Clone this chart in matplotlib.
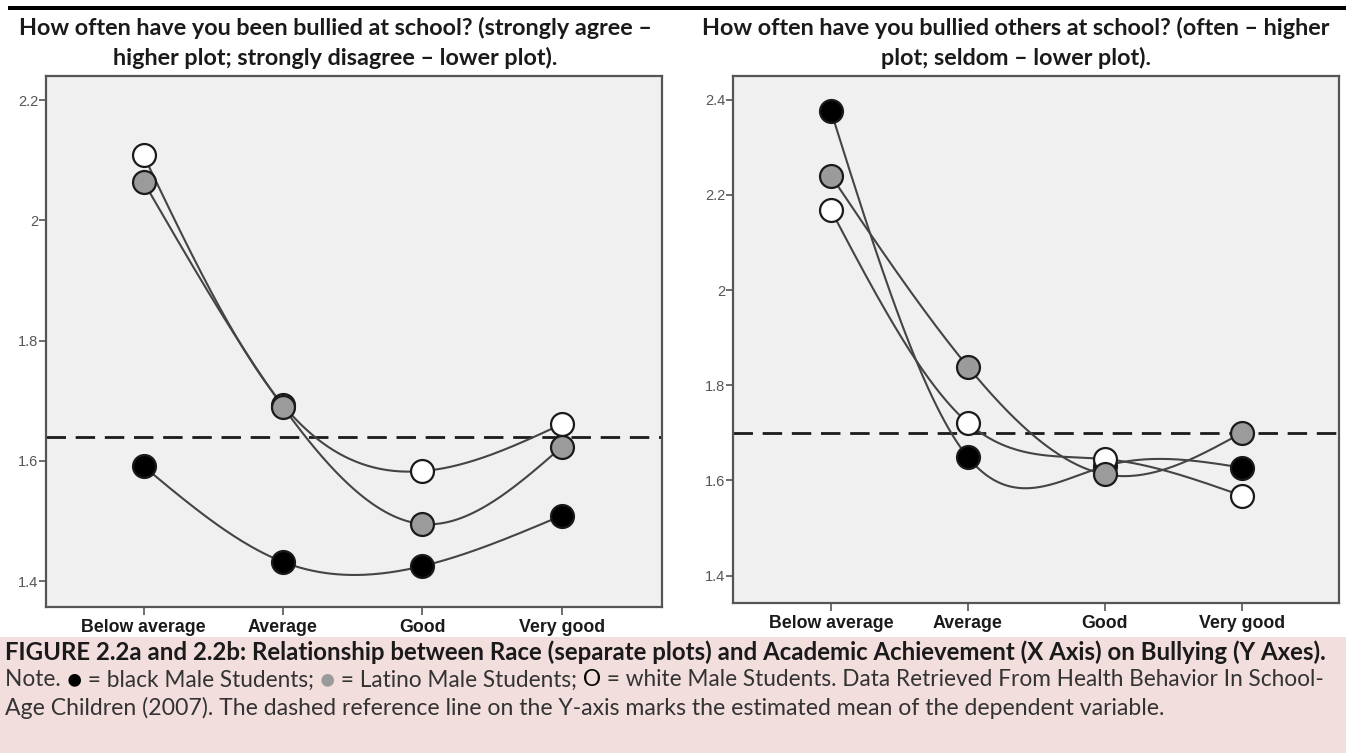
import numpy as np
import matplotlib
matplotlib.use("Agg")
import matplotlib.pyplot as plt
from matplotlib.patches import Rectangle

# ---- data -------------------------------------------------------------
categories = ["Below average", "Average", "Good", "Very good"]

# Fig 2.2a: been bullied at school
bullied_black = [1.591, 1.432, 1.425, 1.509]
bullied_latino = [2.064, 1.690, 1.495, 1.623]
bullied_white = [2.108, 1.693, 1.583, 1.661]
bullied_mean = 1.640
bullied_ticks = [1.4, 1.6, 1.8, 2.0, 2.2]
bullied_ticklabels = ["1.4", "1.6", "1.8", "2", "2.2"]

# Fig 2.2b: bullied others at school
bully_black = [2.376, 1.649, 1.630, 1.627]
bully_latino = [2.240, 1.839, 1.613, 1.700]
bully_white = [2.168, 1.721, 1.645, 1.568]
bully_mean = 1.700
bully_ticks = [1.4, 1.6, 1.8, 2.0, 2.2, 2.4]
bully_ticklabels = ["1.4", "1.6", "1.8", "2", "2.2", "2.4"]

titles = [
    "How often have you been bullied at school? (strongly agree \u2013\nhigher plot; strongly disagree \u2013 lower plot).",
    "How often have you bullied others at school? (often \u2013 higher\nplot; seldom \u2013 lower plot).",
]

caption_line1 = ("FIGURE 2.2a and 2.2b: Relationship between Race (separate plots) and "
                 "Academic Achievement (X Axis) on Bullying (Y Axes).")
caption_line2 = [("Note. ", "#333333"), ("\u25CF", "#000000"), (" = black Male Students; ", "#333333"),
                 ("\u25CF", "#9a9a9a"), (" = Latino Male Students; ", "#333333"),
                 ("O", "#000000"),
                 (" = white Male Students. Data Retrieved From Health Behavior In School-", "#333333")]
caption_line3 = ("Age Children (2007). The dashed reference line on the Y-axis marks the "
                 "estimated mean of the dependent variable.")

# ---- helpers ----------------------------------------------------------
def natural_spline(y, n=200):
    """Natural cubic spline through equally spaced points x = 0..len(y)-1."""
    y = np.asarray(y, float)
    k = len(y)
    A = np.zeros((k, k))
    b = np.zeros(k)
    A[0, 0] = A[-1, -1] = 1.0
    for i in range(1, k - 1):
        A[i, i - 1], A[i, i], A[i, i + 1] = 1.0, 4.0, 1.0
        b[i] = 6.0 * (y[i - 1] - 2 * y[i] + y[i + 1])
    M = np.linalg.solve(A, b)
    xs = np.linspace(0, k - 1, n)
    ys = np.empty_like(xs)
    for j, x in enumerate(xs):
        i = min(int(np.floor(x)), k - 2)
        t = x - i
        ys[j] = (y[i] * (1 - t) + y[i + 1] * t
                 - t * (1 - t) / 6.0 * (M[i] * (2 - t) + M[i + 1] * (1 + t)))
    return xs, ys


W, H = 1346, 753
fig = plt.figure(figsize=(W / 100, H / 100), dpi=100)
fig.patch.set_facecolor("white")

def px_axes(x0, x1, ytop, ybot):
    return fig.add_axes([x0 / W, 1 - ybot / H, (x1 - x0) / W, (ybot - ytop) / H])

ax_a = px_axes(46, 662, 76, 607)
ax_b = px_axes(733, 1339, 76, 603)

series_style = [  # drawn in this order: black, white, latino
    ("black", "#000000"),
    ("white", "#ffffff"),
    ("latino", "#9b9b9b"),
]

panels = [
    (ax_a, {"black": bullied_black, "white": bullied_white, "latino": bullied_latino},
     bullied_mean, bullied_ticks, bullied_ticklabels, (-0.70, 3.72), (1.357, 2.240)),
    (ax_b, {"black": bully_black, "white": bully_white, "latino": bully_latino},
     bully_mean, bully_ticks, bully_ticklabels, (-0.715, 3.71), (1.3426, 2.4496)),
]

xpos = np.arange(len(categories))
for ax, data, mean, ticks, tlabels, xlim, ylim in panels:
    ax.set_facecolor("#f0f0f0")
    ax.axhline(mean, color="#1a1a1a", lw=2.0, dashes=(7, 3.5), zorder=1)
    for key, fill in series_style:
        vals = data[key]
        sx, sy = natural_spline(vals)
        ax.plot(sx, sy, color="#444444", lw=1.5, zorder=2)
        ax.plot(xpos, vals, ls="none", marker="o", ms=16.5, mfc=fill,
                mec="#1a1a1a", mew=1.6, zorder=3)
    ax.set_xlim(*xlim)
    ax.set_ylim(*ylim)
    ax.set_xticks(xpos)
    ax.set_xticklabels(categories, fontsize=12.8, fontweight="bold",
                       family="Liberation Sans", color="#1a1a1a")
    ax.set_yticks(ticks)
    ax.set_yticklabels(tlabels, fontsize=10.5, family="Liberation Sans", color="#555555")
    ax.tick_params(axis="x", length=6, width=1.2, color="#555555", pad=3)
    ax.tick_params(axis="y", length=5, width=1.2, color="#555555", pad=0.5)
    for s in ax.spines.values():
        s.set_color("#555555")
        s.set_linewidth(1.6)

# titles
title_font = dict(family=["Lato", "DejaVu Sans"], fontweight="bold", fontsize=16.8,
                  color="#1a1a1a", ha="center", va="center", linespacing=1.42)
fig.text(335 / W, 1 - 43 / H, titles[0], **title_font)
fig.text(1016 / W, 1 - 43 / H, titles[1], **title_font)

# rule at the top of the page
fig.add_artist(Rectangle((8 / W, 1 - 10 / H), 1 - 8 / W, 4 / H, transform=fig.transFigure,
                         facecolor="black", edgecolor="none"))

# caption panel
fig.add_artist(Rectangle((0, 0), 1, 1 - 637 / H, transform=fig.transFigure,
                         facecolor="#f3dede", edgecolor="none", zorder=0))

cap_font = dict(family=["Lato", "DejaVu Sans"], va="center")
fig.text(5 / W, 1 - 652 / H, caption_line1, fontweight="bold", fontsize=17.3,
         color="#1a1a1a", **cap_font)

renderer = fig.canvas.get_renderer()
x = 5 / W
for txt, col in caption_line2:
    size = 18.5 if txt == "\u25CF" else 16.3
    t = fig.text(x, 1 - 680 / H, txt, color=col, fontsize=size, **cap_font)
    bb = t.get_window_extent(renderer=renderer)
    x += bb.width / W
fig.text(5 / W, 1 - 708 / H, caption_line3, color="#333333", fontsize=16.6, **cap_font)

fig.savefig("out.png", dpi=100)
